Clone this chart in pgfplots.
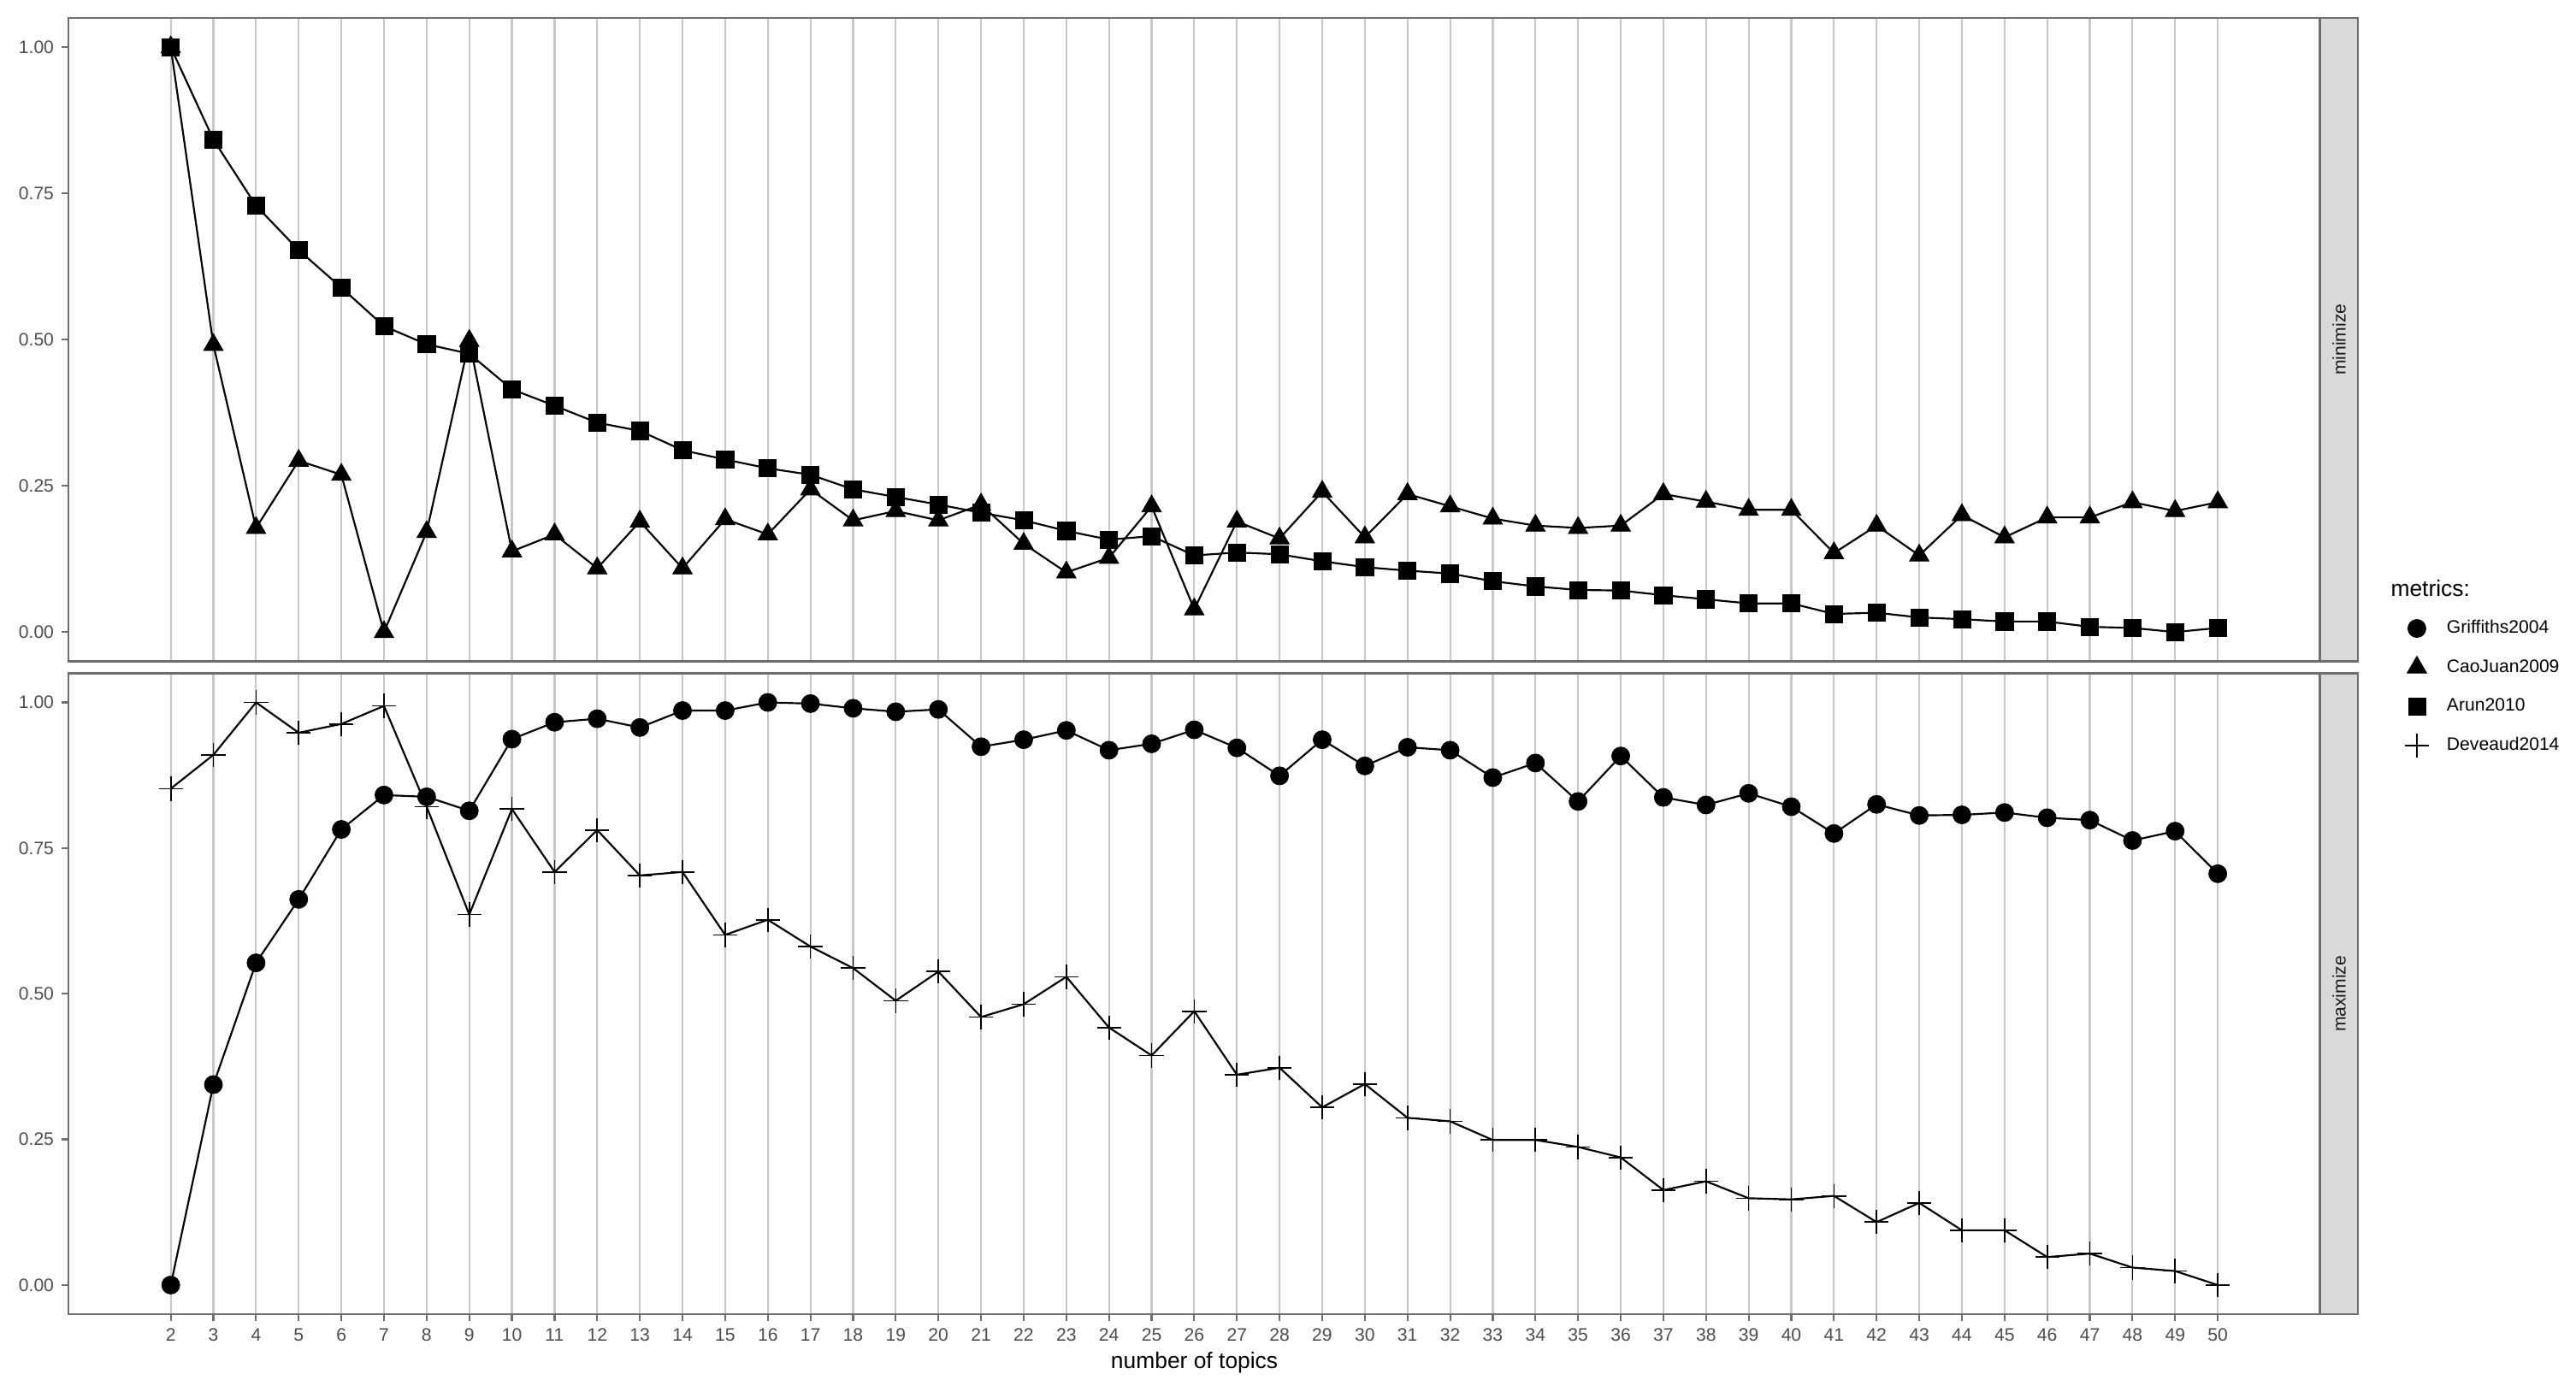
\documentclass[border=0pt]{standalone}
\usepackage{fontspec}
\setmainfont{Liberation Sans}
\usepackage{pgfplots}
\usepackage{pgfplotstable}
\pgfplotsset{compat=1.18}
\definecolor{gridc}{RGB}{200,200,200}
\definecolor{borderc}{RGB}{110,110,110}
\definecolor{stripc}{RGB}{217,217,217}
\definecolor{tickc}{RGB}{77,77,77}
\definecolor{stript}{RGB}{26,26,26}

% minimize panel: CaoJuan2009 (c), Arun2010 (a)
\pgfplotstableread{
x c a
2 1.000 1.000
3 0.491 0.842
4 0.178 0.729
5 0.293 0.653
6 0.269 0.589
7 0.000 0.523
8 0.171 0.492
9 0.498 0.476
10 0.138 0.415
11 0.167 0.387
12 0.109 0.358
13 0.189 0.344
14 0.109 0.311
15 0.193 0.295
16 0.167 0.280
17 0.244 0.269
18 0.191 0.244
19 0.207 0.231
20 0.191 0.218
21 0.218 0.204
22 0.151 0.191
23 0.102 0.173
24 0.127 0.158
25 0.215 0.164
26 0.039 0.131
27 0.189 0.136
28 0.160 0.133
29 0.240 0.121
30 0.162 0.111
31 0.236 0.105
32 0.215 0.100
33 0.194 0.087
34 0.182 0.078
35 0.178 0.072
36 0.182 0.071
37 0.236 0.063
38 0.223 0.056
39 0.209 0.049
40 0.209 0.049
41 0.135 0.031
42 0.182 0.033
43 0.131 0.025
44 0.200 0.022
45 0.162 0.018
46 0.196 0.018
47 0.196 0.009
48 0.222 0.007
49 0.207 0.000
50 0.222 0.007
}\mindata

% maximize panel: Griffiths2004 (g), Deveaud2014 (d)
\pgfplotstableread{
x g d
2 0.000 0.852
3 0.344 0.910
4 0.553 1.000
5 0.662 0.948
6 0.782 0.963
7 0.841 0.994
8 0.838 0.821
9 0.814 0.636
10 0.937 0.817
11 0.966 0.709
12 0.972 0.781
13 0.957 0.703
14 0.986 0.709
15 0.986 0.601
16 1.000 0.627
17 0.998 0.581
18 0.990 0.544
19 0.984 0.488
20 0.988 0.538
21 0.924 0.460
22 0.936 0.482
23 0.952 0.529
24 0.918 0.442
25 0.929 0.394
26 0.953 0.470
27 0.922 0.361
28 0.874 0.373
29 0.936 0.305
30 0.891 0.345
31 0.923 0.287
32 0.918 0.281
33 0.871 0.249
34 0.896 0.249
35 0.830 0.237
36 0.908 0.219
37 0.837 0.163
38 0.824 0.178
39 0.844 0.149
40 0.821 0.147
41 0.775 0.153
42 0.825 0.108
43 0.806 0.141
44 0.807 0.094
45 0.811 0.094
46 0.802 0.048
47 0.798 0.054
48 0.763 0.030
49 0.779 0.024
50 0.706 0.000
}\maxdata

\pgfplotsset{
  facet/.style={
    scale only axis,
    width=1097pt,
    xmin=-0.4, xmax=52.4,
    ymin=-0.05, ymax=1.05,
    xtick={2,...,50},
    ytick={0,0.25,0.5,0.75,1},
    xmajorgrids=true,
    ymajorgrids=false,
    major grid style={draw=gridc, line width=0.9pt},
    axis line style={draw=borderc, line width=1.1pt},
    tick align=outside,
    major tick length=3.3pt,
    tick style={draw=borderc, line width=0.9pt},
    xtick pos=bottom,
    ytick pos=left,
    /pgf/number format/assume math mode=true,
    yticklabel style={font=\fontsize{8.8}{10}\selectfont, text=tickc,
      /pgf/number format/fixed, /pgf/number format/fixed zerofill,
      /pgf/number format/precision=2},
    xticklabel style={font=\fontsize{8.8}{10}\selectfont, text=tickc},
    line width=0.9pt,
  },
}

\begin{document}
\begin{tikzpicture}
\useasboundingbox (0,0) rectangle (1255pt,-675.4pt);

\begin{axis}[facet,
  name=top,
  at={(33.33pt,-8.75pt)}, anchor=north west,
  height=313.5pt,
  xticklabels={},
  xmajorticks=false,
  legend style={draw=none, fill=none, at={(1.0371,0.0828)}, anchor=north west,
    inner sep=0pt, row sep=0pt, cells={anchor=west},
    font=\fontsize{8.8}{10}\selectfont},
  legend image code/.code={\path[draw=none, fill=none] (0pt,-9.5pt) rectangle (18.6pt,9.5pt);
    \draw[#1] plot coordinates {(6pt,0pt)};},
]
\addlegendimage{only marks, mark=*, mark size=4.4pt, mark options={line width=0.3pt}}
\addlegendentry{Griffiths2004}
\addlegendimage{only marks, mark=triangle*, mark size=5.5pt, mark options={line width=0.3pt}}
\addlegendentry{CaoJuan2009}
\addlegendimage{only marks, mark=square*, mark size=4.2pt, mark options={line width=0.3pt}}
\addlegendentry{Arun2010}
\addlegendimage{only marks, mark=+, mark size=5.9pt, mark options={line width=0.7pt}}
\addlegendentry{Deveaud2014}

\addplot[black, line width=0.9pt, mark=square*, mark size=4.2pt,
  mark options={line width=0.3pt}, forget plot] table[x=x, y=a] {\mindata};
\addplot[black, line width=0.9pt, mark=triangle*, mark size=5.5pt,
  mark options={line width=0.3pt}, forget plot] table[x=x, y=c] {\mindata};
\end{axis}

\begin{axis}[facet,
  name=bot,
  at={(33.33pt,-328.1pt)}, anchor=north west,
  height=312.3pt,
]
\addplot[black, line width=0.9pt, mark=*, mark size=4.4pt,
  mark options={line width=0.3pt}] table[x=x, y=g] {\maxdata};
\addplot[black, line width=0.9pt, mark=+, mark size=5.9pt,
  mark options={line width=0.7pt}] table[x=x, y=d] {\maxdata};
\end{axis}

% facet strips
\draw[fill=stripc, draw=borderc, line width=1.1pt] (1130.4pt,-8.75pt) rectangle (1148.7pt,-322.25pt);
\draw[fill=stripc, draw=borderc, line width=1.1pt] (1130.4pt,-328.1pt) rectangle (1148.7pt,-640.4pt);
\node[rotate=90, text=stript, font=\fontsize{8.8}{10}\selectfont] at (1139.6pt,-165.5pt) {minimize};
\node[rotate=90, text=stript, font=\fontsize{8.8}{10}\selectfont] at (1139.6pt,-484.3pt) {maximize};

% axis title and legend title
\node[font=\fontsize{11}{13}\selectfont] at (581.9pt,-664pt) {number of topics};
\node[anchor=west, inner sep=0pt, font=\fontsize{11}{13}\selectfont] at (1164.6pt,-286.7pt) {metrics:};
\end{tikzpicture}
\end{document}
